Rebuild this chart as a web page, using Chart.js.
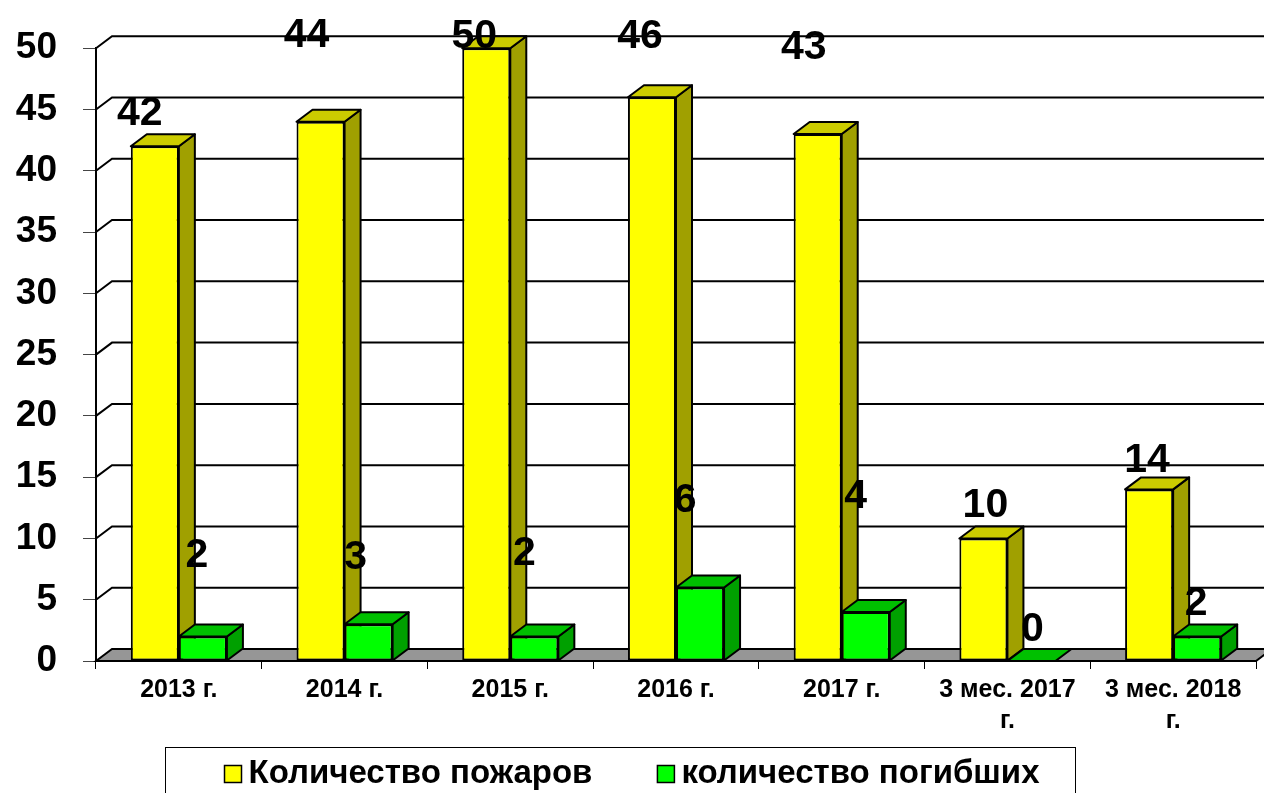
<!DOCTYPE html>
<html>
<head>
<meta charset="utf-8">
<script src="https://cdn.jsdelivr.net/npm/chart.js@4/dist/chart.umd.min.js"></script>
<style>
  html, body { margin: 0; padding: 0; background: #fff; }
  #wrap { width: 1264px; height: 793px; position: relative; }
</style>
</head>
<body>
<div id="wrap"><canvas id="fireChart"></canvas></div>
<script>
// values
const categories = [
  "2013 г.", "2014 г.", "2015 г.", "2016 г.", "2017 г.",
  ["3 мес. 2017", "г."], ["3 мес. 2018", "г."]
];
const fires = [42, 44, 50, 46, 43, 10, 14];
const deaths = [2, 3, 2, 6, 4, 0, 2];
const seriesNames = ["Количество пожаров", "количество погибших"];

// label nudges [dx, lift above bar top] to mimic the original placement
const fireLabelShift = [[-15, 33], [-14, 86], [-12, 12], [-12, 61], [-14, 86], [2, 33], [-2, 29]];
const deathLabelShift = [[-6, 81], [-13, 67], [-10, 83], [-15, 87], [-10, 115], [1, 31], [-1, 33]];

const DX = 16, DY = 12;
const FONT = "'Liberation Sans', Arial, sans-serif";

const faces = [
  { front: "#FFFF00", top: "#CCCC00", side: "#A0A000" },
  { front: "#00FF00", top: "#00C000", side: "#00A000" }
];

function poly(ctx, pts, fill) {
  ctx.beginPath();
  ctx.moveTo(pts[0][0], pts[0][1]);
  for (let i = 1; i < pts.length; i++) ctx.lineTo(pts[i][0], pts[i][1]);
  ctx.closePath();
  ctx.fillStyle = fill;
  ctx.fill();
  ctx.stroke();
}

// side and top faces of every bar of one dataset
function drawDepth(chart, index) {
  const ctx = chart.ctx;
  const f = faces[index];
  ctx.save();
  ctx.strokeStyle = "#000";
  ctx.lineWidth = 2;
  ctx.lineJoin = "round";
  chart.getDatasetMeta(index).data.forEach(bar => {
    const p = bar.getProps(["x", "y", "base", "width"], true);
    const l = p.x - p.width / 2, r = p.x + p.width / 2;
    if (p.base - p.y > 0.5) {
      poly(ctx, [[r, p.y], [r + DX, p.y - DY], [r + DX, p.base - DY], [r, p.base]], f.side);
    }
    poly(ctx, [[l, p.y], [l + DX, p.y - DY], [r + DX, p.y - DY], [r, p.y]], f.top);
  });
  ctx.restore();
}

const wallPlugin = {
  id: "wall",
  beforeDatasetsDraw(chart) {
    const ctx = chart.ctx;
    const area = chart.chartArea;
    const y = chart.scales.y;
    ctx.save();
    ctx.strokeStyle = "#000";
    ctx.lineWidth = 2;
    // back wall grid lines
    y.ticks.forEach(t => {
      if (t.value === 0) return;
      const py = y.getPixelForValue(t.value);
      ctx.beginPath();
      ctx.moveTo(area.left, py);
      ctx.lineTo(area.left + DX, py - DY);
      ctx.lineTo(chart.width + 20, py - DY);
      ctx.stroke();
    });
    // floor
    const base = y.getPixelForValue(0);
    poly(ctx, [[area.left, base], [area.left + DX, base - DY],
               [area.right + DX, base - DY], [area.right, base]], "#969696");
    ctx.restore();
    // yellow depth goes behind everything else
    drawDepth(chart, 0);
  },
  afterDatasetsDraw(chart) {
    drawDepth(chart, 1);
    const ctx = chart.ctx;
    const shifts = [fireLabelShift, deathLabelShift];
    ctx.save();
    ctx.fillStyle = "#000";
    ctx.font = "bold 41px " + FONT;
    ctx.textAlign = "center";
    ctx.textBaseline = "middle";
    chart.data.datasets.forEach((ds, di) => {
      chart.getDatasetMeta(di).data.forEach((bar, i) => {
        const s = shifts[di][i];
        ctx.fillText(String(ds.data[i]), bar.x + s[0], bar.y - s[1]);
      });
    });
    ctx.restore();
  },
  afterDraw(chart) {
    // legend with a frame, as in the original
    const ctx = chart.ctx;
    ctx.save();
    ctx.strokeStyle = "#000";
    ctx.lineWidth = 1;
    ctx.strokeRect(165.5, 747.5, 910, 60);
    ctx.font = "bold 33px " + FONT;
    ctx.textBaseline = "middle";
    const sq = 17, gap = 7, between = 65;
    const widths = seriesNames.map(n => ctx.measureText(n).width);
    const total = widths.reduce((a, w) => a + sq + gap + w, 0) + between;
    let x = chart.width / 2 - total / 2;
    const cy = 774;
    seriesNames.forEach((name, i) => {
      ctx.fillStyle = faces[i].front;
      ctx.fillRect(x, cy - sq / 2, sq, sq);
      ctx.lineWidth = 1.5;
      ctx.strokeRect(x, cy - sq / 2, sq, sq);
      ctx.fillStyle = "#000";
      ctx.fillText(name, x + sq + gap, cy);
      x += sq + gap + widths[i] + between;
    });
    ctx.restore();
  }
};

new Chart(document.getElementById("fireChart"), {
  type: "bar",
  data: {
    labels: categories,
    datasets: [
      {
        label: seriesNames[0],
        data: fires,
        backgroundColor: faces[0].front,
        borderColor: "#000",
        borderWidth: 2,
        borderSkipped: false
      },
      {
        label: seriesNames[1],
        data: deaths,
        backgroundColor: faces[1].front,
        borderColor: "#000",
        borderWidth: 2,
        borderSkipped: false
      }
    ]
  },
  options: {
    responsive: true,
    maintainAspectRatio: false,
    animation: false,
    layout: { padding: { top: 46, right: 8, left: 0, bottom: 47 } },
    datasets: { bar: { barPercentage: 1, categoryPercentage: 0.58 } },
    plugins: {
      legend: { display: false },
      tooltip: { enabled: false }
    },
    scales: {
      x: {
        afterFit: s => { s.height = 85; },
        grid: { display: true, drawOnChartArea: false, tickLength: 8, color: "#000", lineWidth: 1 },
        border: { display: true, color: "#000", width: 2 },
        ticks: {
          color: "#000",
          font: { family: FONT, size: 25, weight: "bold", lineHeight: 1.24 },
          padding: 6,
          maxRotation: 0,
          autoSkip: false
        }
      },
      y: {
        min: 0,
        max: 50,
        afterFit: s => { s.width = 96; },
        grid: { display: true, drawOnChartArea: false, tickLength: 13, color: "#444", lineWidth: 1 },
        border: { display: true, color: "#000", width: 2 },
        ticks: {
          stepSize: 5,
          color: "#000",
          padding: 26,
          font: { family: FONT, size: 37, weight: "bold" }
        }
      }
    }
  },
  plugins: [wallPlugin]
});
</script>
</body>
</html>
